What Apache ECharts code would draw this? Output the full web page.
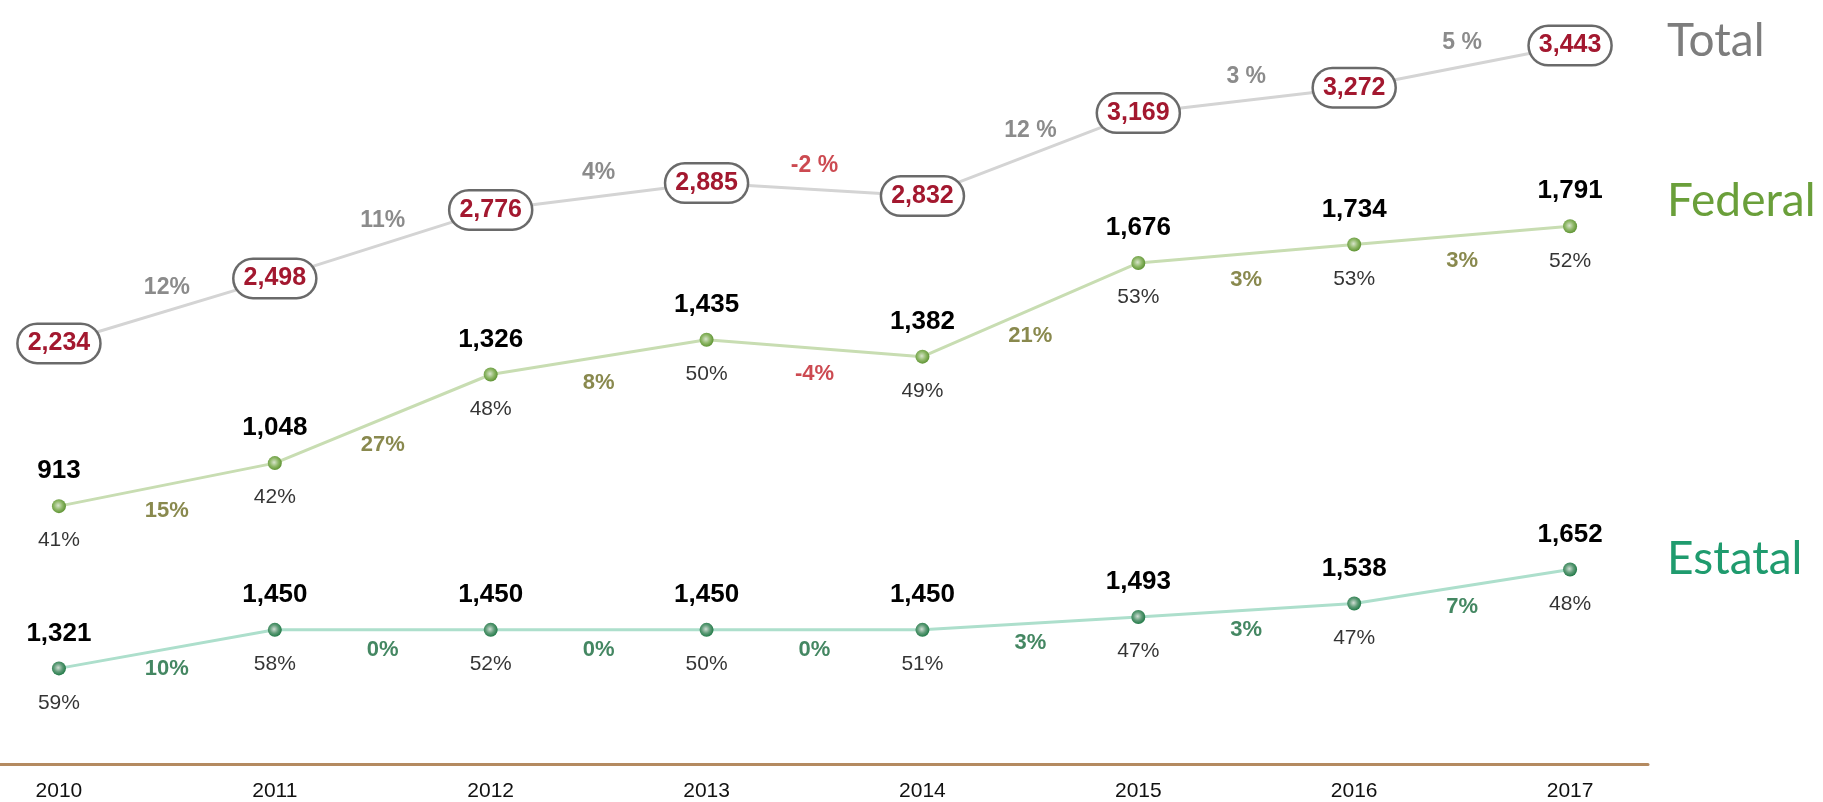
<!DOCTYPE html>
<html><head><meta charset="utf-8">
<script src="https://cdn.jsdelivr.net/npm/echarts@6/dist/echarts.min.js"></script>
<style>html,body{margin:0;padding:0;background:#fff}#c{width:1823px;height:802px}</style>
</head><body><div id="c"></div>
<script>
// ---- data ----
const years = [2010, 2011, 2012, 2013, 2014, 2015, 2016, 2017];
const totalValues = [2234, 2498, 2776, 2885, 2832, 3169, 3272, 3443];
const federalValues = [913, 1048, 1326, 1435, 1382, 1676, 1734, 1791];
const estatalValues = [1321, 1450, 1450, 1450, 1450, 1493, 1538, 1652];
const federalShare = ['41%', '42%', '48%', '50%', '49%', '53%', '53%', '52%'];
const estatalShare = ['59%', '58%', '52%', '50%', '51%', '47%', '47%', '48%'];
const totalGrowth = ['12%', '11%', '4%', '-2 %', '12 %', '3 %', '5 %'];
const federalGrowth = ['15%', '27%', '8%', '-4%', '21%', '3%', '3%'];
const estatalGrowth = ['10%', '0%', '0%', '0%', '3%', '3%', '7%'];
const seriesNames = ['Total', 'Federal', 'Estatal'];

// ---- helpers ----
const FONT = '"Liberation Sans", Arial, Helvetica, sans-serif';
const NAMEFONT = 'Lato, "Open Sans", sans-serif';
const fmt = v => Number(v).toLocaleString('en-US');
const pts = vals => vals.map((v, i) => [years[i], v]);
const named = (vals, labels) => vals.map((v, i) => ({ value: [years[i], v], name: labels[i] }));
const mids = (vals, labels) => vals.slice(0, -1).map((v, i) => ({
  value: [(years[i] + years[i + 1]) / 2, (v + vals[i + 1]) / 2],
  name: labels[i]
}));
const growthFmt = p => (p.name.trim().charAt(0) === '-' ? '{neg|' : '{pos|') + p.name + '}';
const dot = (edge, mid, hi) => new echarts.graphic.RadialGradient(0.45, 0.45, 0.55, [
  { offset: 0, color: hi }, { offset: 0.55, color: mid }, { offset: 1, color: edge }
]);
const growthRich = (pos, size) => ({
  pos: { color: pos, fontSize: size, fontWeight: 'bold', fontFamily: FONT },
  neg: { color: '#bf1d25', fontSize: size, fontWeight: 'bold', fontFamily: FONT }
});

const chart = echarts.init(document.getElementById('c'), null, { renderer: 'canvas' });

const valueLabel = { show: true, position: 'top', distance: 15, fontFamily: FONT, fontSize: 26, fontWeight: 'bold', color: '#000', formatter: p => fmt(p.value[1]) };
const shareLabel = { show: true, position: 'bottom', distance: 24, fontFamily: FONT, fontSize: 21, color: '#000', formatter: p => p.name };

const option = {
  animation: false,
  backgroundColor: '#ffffff',
  grid: { left: 0, right: 175, top: 0, bottom: 35, containLabel: false },
  xAxis: {
    type: 'value', min: 2009.727, max: 2017.361,
    axisLine: { show: true, lineStyle: { color: '#b48a60', width: 3 } },
    axisTick: { show: false },
    splitLine: { show: false },
    axisLabel: { customValues: years, formatter: v => String(v), color: '#111', fontFamily: FONT, fontSize: 21, margin: 17 }
  },
  yAxis: [
    { type: 'value', min: 527, max: 3628, show: false },
    { type: 'value', min: 104, max: 2501, show: false },
    { type: 'value', min: 1001, max: 3558, show: false }
  ],
  series: [
    {
      name: seriesNames[0], type: 'line', yAxisIndex: 0, data: pts(totalValues), z: 3,
      symbol: 'circle', symbolSize: 4, itemStyle: { color: '#d4d4d4' },
      lineStyle: { color: '#d4d4d4', width: 3 },
      label: { show: true, position: 'inside', formatter: p => fmt(p.value[1]), fontFamily: FONT, fontSize: 25, fontWeight: 'bold', color: '#a3182f',
        backgroundColor: '#fff', borderColor: '#6a6a6a', borderWidth: 2.5, borderRadius: 21, padding: [7, 9, 5, 9] },
      endLabel: { show: true, formatter: seriesNames[0], distance: 97, offset: [0, -4], color: '#7d7d7d', fontFamily: NAMEFONT, fontSize: 46 }
    },
    {
      name: seriesNames[1], type: 'line', yAxisIndex: 1, data: pts(federalValues), z: 3,
      symbol: 'circle', symbolSize: 14, itemStyle: { color: dot('#5f9434', '#8fb868', '#d8e4cc') },
      lineStyle: { color: '#c8ddb2', width: 3 },
      label: valueLabel,
      endLabel: { show: true, formatter: seriesNames[1], distance: 97, offset: [0, -25], color: '#6a9f3a', fontFamily: NAMEFONT, fontSize: 46 }
    },
    {
      name: seriesNames[2], type: 'line', yAxisIndex: 2, data: pts(estatalValues), z: 3,
      symbol: 'circle', symbolSize: 14, itemStyle: { color: dot('#227a48', '#5f9c78', '#d0ddd4') },
      lineStyle: { color: '#addfcc', width: 3 },
      label: valueLabel,
      endLabel: { show: true, formatter: seriesNames[2], distance: 97, offset: [0, -10], color: '#1f9b6e', fontFamily: NAMEFONT, fontSize: 46 }
    },
    {
      name: 'Federal share', type: 'scatter', yAxisIndex: 1, data: named(federalValues, federalShare),
      symbolSize: 0, label: shareLabel, silent: true
    },
    {
      name: 'Estatal share', type: 'scatter', yAxisIndex: 2, data: named(estatalValues, estatalShare),
      symbolSize: 0, label: shareLabel, silent: true
    },
    {
      name: 'Total growth', type: 'scatter', yAxisIndex: 0, data: mids(totalValues, totalGrowth), symbolSize: 0, silent: true,
      label: { show: true, position: 'top', distance: 12, formatter: growthFmt, fontFamily: FONT, rich: growthRich('#6e6e6e', 23) }
    },
    {
      name: 'Federal growth', type: 'scatter', yAxisIndex: 1, data: mids(federalValues, federalGrowth), symbolSize: 0, silent: true,
      label: { show: true, position: 'bottom', distance: 15, formatter: growthFmt, fontFamily: FONT, rich: growthRich('#6b6b22', 22) }
    },
    {
      name: 'Estatal growth', type: 'scatter', yAxisIndex: 2, data: mids(estatalValues, estatalGrowth), symbolSize: 0, silent: true,
      label: { show: true, position: 'bottom', distance: 9, formatter: growthFmt, fontFamily: FONT, rich: growthRich('#15693b', 22) }
    }
  ]
};
chart.setOption(option);
</script>
</body></html>
